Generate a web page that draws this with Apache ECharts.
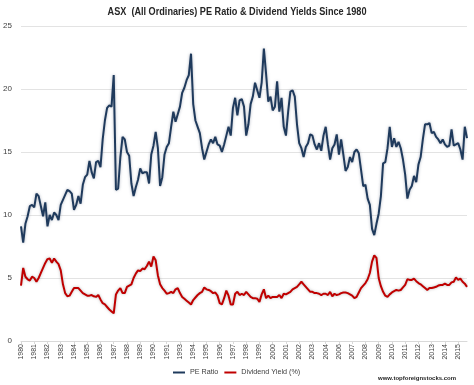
<!DOCTYPE html>
<html>
<head>
<meta charset="utf-8">
<script src="https://cdn.jsdelivr.net/npm/echarts@6/dist/echarts.min.js"></script>
<style>html,body{margin:0;padding:0;background:#fff}#c{width:474px;height:385px}</style>
</head>
<body>
<div id="c"></div>
<script>
// Year tick labels (one every 6 points, as in the source chart)
const yearLabels = ['1980','1981','1982','1983','1984','1985','1986','1987','1988','1989','1990','1991',
  '1993','1994','1995','1996','1997','1998','1999','2000','2001','2002','2003','2004',
  '2006','2007','2008','2009','2010','2011','2012','2013','2014','2015'];

// PE Ratio
const peRatio = [
  9.1,7.8,9.3,9.9,10.7,10.8,
  10.6,11.7,11.5,10.7,9.9,11.0,
  9.1,10.0,9.6,10.2,10.0,9.6,
  10.8,11.2,11.6,12.0,11.9,11.7,
  10.4,10.8,11.5,10.9,12.4,13.0,
  13.2,14.3,13.4,12.9,14.2,14.3,
  13.8,16.0,17.5,18.5,18.7,18.6,
  21.1,12.0,12.1,14.6,16.2,16.0,
  15.0,14.7,12.5,11.5,12.2,12.8,
  13.7,13.3,13.4,13.4,12.5,14.8,
  15.5,16.6,15.3,12.3,13.0,14.8,
  15.4,15.7,17.0,18.2,17.4,18.0,
  18.6,19.7,20.1,20.7,21.1,22.8,
  18.8,17.5,17.0,16.5,15.3,14.4,
  15.0,15.6,16.0,15.7,16.2,15.6,
  15.5,15.0,15.6,16.3,17.0,16.3,
  18.5,19.3,17.9,19.1,19.2,18.6,
  16.3,17.2,18.8,19.4,20.5,19.9,
  19.3,20.5,23.2,21.2,19.0,19.4,
  18.3,18.6,20.6,18.2,19.3,17.0,
  16.3,18.2,19.8,19.9,19.4,17.2,
  15.7,15.3,14.6,15.4,15.7,16.4,
  16.3,15.6,15.2,15.7,15.1,16.3,
  17.0,15.6,14.4,15.3,15.6,16.4,
  14.8,16.0,14.8,13.5,13.8,14.6,
  14.2,15.0,15.2,14.9,13.6,12.3,
  12.4,11.3,10.8,8.9,8.4,9.3,
  10.1,11.5,14.1,14.2,15.3,17.0,
  15.4,16.1,15.4,15.8,15.3,14.4,
  13.2,11.3,12.0,12.3,13.1,12.6,
  14.0,14.6,16.0,17.2,17.2,17.3,
  16.5,16.6,16.2,16.0,15.7,16.0,
  15.6,15.4,15.5,16.8,15.5,15.6,
  15.7,15.2,14.4,17.0,16.1
];

// Dividend Yield (%)
const dividendYield = [
  4.4,5.8,5.1,4.9,4.8,5.1,
  5.0,4.7,5.0,5.4,5.8,6.2,
  6.5,6.55,6.2,6.55,6.3,6.1,
  5.6,4.5,3.8,3.55,3.6,3.9,
  4.2,4.2,4.2,4.0,3.8,3.7,
  3.6,3.6,3.65,3.55,3.5,3.65,
  3.3,3.0,2.9,2.7,2.5,2.35,
  2.2,3.7,4.0,4.2,3.8,3.8,
  4.3,4.4,4.5,5.0,5.35,5.6,
  5.55,5.75,5.7,5.95,6.3,5.9,
  6.7,6.4,5.2,4.5,4.2,4.0,
  3.75,3.8,3.9,3.8,4.1,4.2,
  3.8,3.5,3.35,3.2,3.05,2.9,
  3.25,3.45,3.65,3.8,3.9,4.25,
  4.1,4.05,3.95,3.8,3.85,3.6,
  3.0,2.9,3.4,4.0,3.6,2.9,
  2.9,3.75,3.9,3.65,3.75,3.65,
  3.9,3.7,3.5,3.4,3.4,3.35,
  3.1,3.7,4.1,3.4,3.6,3.4,
  3.5,3.5,3.5,3.65,3.4,3.75,
  3.7,3.8,3.9,4.1,4.2,4.3,
  4.5,4.7,4.5,4.3,4.1,3.9,
  3.9,3.8,3.8,3.75,3.65,3.75,
  3.75,3.65,3.9,3.55,3.75,3.65,
  3.7,3.8,3.85,3.85,3.8,3.7,
  3.6,3.4,3.5,3.85,4.2,4.4,
  4.6,4.9,5.4,6.3,6.8,6.6,
  5.0,4.35,3.9,3.6,3.5,3.7,
  3.85,3.95,4.05,4.0,4.05,4.25,
  4.45,4.9,4.85,4.85,4.95,4.75,
  4.6,4.5,4.35,4.2,4.05,4.2,
  4.2,4.25,4.3,4.4,4.45,4.45,
  4.55,4.45,4.45,4.65,4.7,5.05,
  4.85,4.95,4.7,4.55,4.3
];

const yTicks = [0, 5, 10, 15, 20, 25];
const pointsPerLabel = 6;

const categories = peRatio.map((_, i) => String(i));
const labelFont = '"Liberation Sans", Arial, sans-serif';

const chart = echarts.init(document.getElementById('c'), null, {renderer: 'canvas'});
chart.setOption({
  animation: false,
  backgroundColor: '#ffffff',
  grid: {left: 21, right: 7, top: 26, bottom: 44},
  legend: {
    left: 173, top: 369, padding: 0,
    itemWidth: 12, itemHeight: 2, itemGap: 6,
    icon: 'rect',
    textStyle: {fontFamily: labelFont, fontSize: 7.2, color: '#404040'},
    data: ['PE Ratio', 'Dividend Yield (%)']
  },
  xAxis: {
    type: 'category',
    boundaryGap: false,
    data: categories,
    axisLine: {lineStyle: {color: '#d9d9d9', width: 1}},
    axisTick: {show: true, length: 3, lineStyle: {color: '#d9d9d9'}, interval: (i) => i % pointsPerLabel === 0},
    axisLabel: {
      interval: (i) => i % pointsPerLabel === 0,
      formatter: (v, i) => yearLabels[Math.round(i / pointsPerLabel)] || '',
      rotate: 90,
      fontFamily: labelFont,
      fontSize: 7,
      color: '#404040',
      margin: 3
    },
    splitLine: {show: false}
  },
  yAxis: {
    type: 'value',
    min: yTicks[0], max: yTicks[yTicks.length - 1], interval: 5,
    axisLine: {show: false},
    axisTick: {show: false},
    axisLabel: {fontFamily: labelFont, fontSize: 8, color: '#404040', margin: 9},
    splitLine: {lineStyle: {color: '#e3e3e3', width: 1}}
  },
  series: [
    {
      name: 'PE Ratio',
      type: 'line',
      data: peRatio,
      symbol: 'none',
      color: '#1f3a5c',
      lineStyle: {width: 2, color: '#1f3a5c', shadowColor: 'rgba(120,130,150,0.6)', shadowBlur: 3},
      z: 3
    },
    {
      name: 'Dividend Yield (%)',
      type: 'line',
      data: dividendYield,
      symbol: 'none',
      color: '#c00000',
      lineStyle: {width: 2, color: '#c00000', shadowColor: 'rgba(140,140,140,0.6)', shadowBlur: 3},
      z: 2
    }
  ],
  graphic: [
    {
      type: 'text',
      x: 237, y: 12, scaleX: 0.83,
      style: {
        text: 'ASX  (All Ordinaries) PE Ratio & Dividend Yields Since 1980',
        font: 'bold 11px "Liberation Sans", Arial, sans-serif',
        fill: '#262626', align: 'center', verticalAlign: 'middle'
      }
    },
    {
      type: 'text',
      left: 378, top: 375,
      style: {text: 'www.topforeignstocks.com', font: 'bold 6px "Liberation Sans", Arial, sans-serif', fill: '#262626'}
    }
  ]
});
</script>
</body>
</html>
